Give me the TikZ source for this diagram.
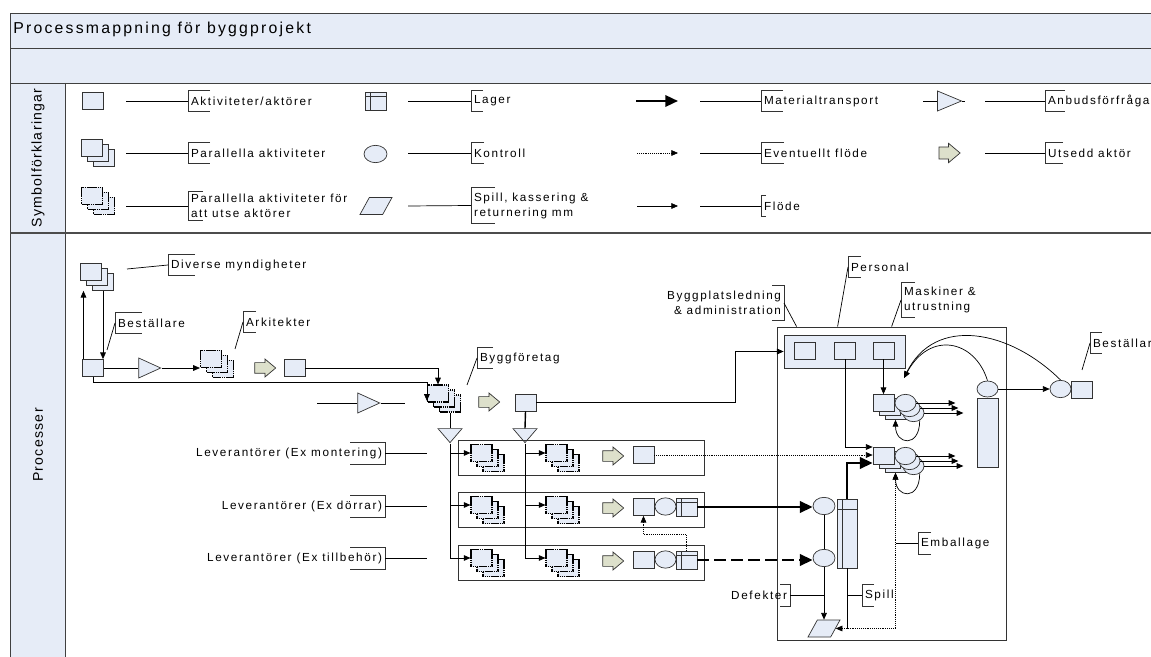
\documentclass[tikz,border=0pt]{standalone}
\usepackage{fontspec}
\setmainfont{Liberation Sans}[LetterSpace=14]
\usetikzlibrary{arrows.meta,shapes.geometric,shapes.arrows}
\definecolor{lightbg}{RGB}{230,236,247}
\definecolor{khaki}{RGB}{221,224,203}
\newcommand{\labfont}{\fontsize{10}{12.8}\selectfont}
\newcommand{\sidefont}{\fontsize{12}{15}\selectfont\addfontfeature{LetterSpace=9}}
% bracket on the left / right side of a label node
\newcommand{\lbrk}[2]{\draw[brk] (#2.north west) ++(#1,0) -| (#2.south west) -- ++(#1,0);}
\newcommand{\rbrk}[2]{\draw[brk] (#2.north east) ++(-#1,0) -| (#2.south east) -- ++(-#1,0);}

\begin{document}
\begin{tikzpicture}[x=0.03cm, y=-0.03cm, line width=0.6pt,
  every node/.style={inner sep=0pt},
  act/.style={draw=black!80, fill=lightbg, minimum width=6.3mm, minimum height=5.1mm},
  utse/.style={draw=black, line width=1pt, dash pattern=on 1.2pt off 0.4pt},
  ctl/.style={ellipse, draw=black!80, fill=lightbg, minimum width=6.3mm, minimum height=5.2mm},
  lager/.style={act, minimum height=5.4mm, path picture={
      \draw[black!80] ([xshift=1.5mm]path picture bounding box.north west) -- ([xshift=1.5mm]path picture bounding box.south west);
      \draw[black!80] ([yshift=-#1]path picture bounding box.north west) -- ([yshift=-#1]path picture bounding box.north east);}},
  lager/.default=1.3mm,
  utsedd/.style={single arrow, draw=black!80, fill=khaki, minimum height=6.3mm, inner xsep=0pt, inner ysep=1.5mm,
                 single arrow head extend=1.1mm, single arrow tip angle=80},
  anbud/.style={isosceles triangle, isosceles triangle stretches, draw=black!80, fill=lightbg, inner sep=0.5pt,
                minimum width=6mm, minimum height=6.6mm},
  anbdown/.style={anbud, shape border rotate=270, minimum width=7.2mm, minimum height=4.2mm},
  spill/.style={trapezium, trapezium left angle=55, trapezium right angle=125, trapezium stretches,
                draw=black!80, fill=lightbg, inner sep=0.5pt, minimum width=9.6mm, minimum height=5.1mm},
  grp/.style={draw=black!80, line width=0.7pt, minimum width=7.38cm, minimum height=1.05cm},
  lbl/.style={font=\labfont, inner xsep=0.8mm, minimum height=6.3mm},
  brk/.style={draw=black!80},
  frame/.style={draw=black!75, line width=0.7pt},
  flow/.style={draw=black, -{Triangle[length=2mm,width=1.7mm]}},
  maybe/.style={flow, densely dotted},
  mat/.style={draw=black, line width=2pt, -{Triangle[length=3.8mm,width=3.4mm]}},
  matdash/.style={mat, dash pattern=on 3.6mm off 1.5mm},
  pics/stk/.style={code={
      \node[act,#1] (-c) at (12,10) {};
      \node[act,#1] (-b) at (6,5) {};
      \node[act,#1] (-a) at (0,0) {};}},
  pics/stk/.default={},
  pics/clu/.style={code={
      \node[act] (-c) at (12,8) {};
      \node[act] (-b) at (6,4) {};
      \node[act] (-a) at (0,0) {};
      \node[ctl] (-e3) at (30,10) {};
      \node[ctl] (-e2) at (26,5) {};
      \node[ctl] (-e1) at (22,0) {};}}
]
  \useasboundingbox (0,0) rectangle (1151,657);

  % frame
  \fill[lightbg] (10,13) rectangle (1160,83);
  \fill[lightbg] (10,83) rectangle (65,670);
  \draw[frame] (1160,13) -- (10,13) -- (10,670);
  \draw[frame] (10,48) -- (1160,48);
  \draw[frame] (10,83) -- (1160,83);
  \draw[frame] (65,83) -- (65,670);
  \draw[frame, line width=1.8pt, draw=black!70] (10,233) -- (1160,233);
  \node[anchor=west, font=\fontsize{13.5}{16}\selectfont] (title) at (13,29.5) {Processmappning för byggprojekt};
  \node[rotate=90, font=\sidefont] (symb) at (38,158) {Symbolförklaringar};
  \node[rotate=90, font=\sidefont] (proc) at (38,445) {Processer};

  % legend, column 1
  \node[act] (s-akt) at (93,100.5) {};
  \pic (s-par) at (92,148) {stk};
  \pic (s-uts) at (92,196) {stk=utse};
  \node[lbl, anchor=west] (l-akt) at (188,101) {Aktiviteter/aktörer};
  \node[lbl, anchor=west] (l-par) at (188,153) {Parallella aktiviteter};
  \node[lbl, anchor=west, align=left, minimum height=8.7mm] (l-uts) at (188,206) {Parallella aktiviteter för\\att utse aktörer};
  \lbrk{22}{l-akt} \lbrk{22}{l-par} \lbrk{15}{l-uts}
  \draw (126,101) -- (l-akt.west);
  \draw (126,153) -- (l-par.west);
  \draw (126,206) -- (l-uts.west);

  % legend, column 2
  \node[lager] (s-lag) at (376,101) {};
  \node[ctl, minimum width=6.9mm] (s-kon) at (375.5,154) {};
  \node[spill] (s-spi) at (376,206) {};
  \node[lbl, anchor=west] (l-lag) at (471,101) {Lager};
  \node[lbl, anchor=west] (l-kon) at (471,153) {Kontroll};
  \node[lbl, anchor=west, align=left, minimum height=10.5mm] (l-spi) at (471,205.5) {Spill, kassering \&\\returnering mm};
  \lbrk{12}{l-lag} \lbrk{13}{l-kon} \lbrk{24}{l-spi}
  \draw (408,101) -- (l-lag.west);
  \draw (408,153) -- (l-kon.west);
  \draw (408,206) -- (l-spi.west);

  % legend, column 3
  \draw[mat] (636,101) -- (678,101);
  \draw[maybe] (637,153) -- (678,153);
  \draw[flow] (637,206) -- (678,206);
  \node[lbl, anchor=west] (l-mat) at (761,101) {Materialtransport};
  \node[lbl, anchor=west] (l-evf) at (761,153) {Eventuellt flöde};
  \node[lbl, anchor=west] (l-flo) at (761,206) {Flöde};
  \lbrk{22}{l-mat} \lbrk{23}{l-evf} \lbrk{5}{l-flo}
  \draw (700,101) -- (l-mat.west);
  \draw (700,153) -- (l-evf.west);
  \draw (700,206) -- (l-flo.west);

  % legend, column 4
  \node[anbud, minimum height=7.2mm] (s-anb) at (944,101) {};
  \draw (923,101) -- (s-anb.lower side);
  \draw (s-anb.apex) -- (965,101);
  \node[utsedd, inner ysep=1.7mm] (s-ut) at (946,153) {};
  \node[lbl, anchor=west] (l-anb) at (1045,101) {Anbudsförfrågan};
  \node[lbl, anchor=west] (l-ut) at (1045,153) {Utsedd aktör};
  \lbrk{20}{l-anb} \lbrk{18}{l-ut}
  \draw (985,101) -- (l-anb.west);
  \draw (985,153) -- (l-ut.west);

  % beställare, myndigheter, arkitekter
  \pic (dm) at (91,272) {stk};
  \node[act] (best) at (93,368) {};
  \node[anbud] (anb1) at (145,368) {};
  \pic (ark) at (211,359) {stk=utse};
  \node[utsedd] (ut0) at (262,368) {};
  \node[act] (ark2) at (294.5,368) {};
  \node[lbl, anchor=west] (l-dm) at (168,265) {Diverse myndigheter};
  \node[lbl, anchor=west] (l-best) at (115,323) {Beställare};
  \node[lbl, anchor=west] (l-ark) at (243,322) {Arkitekter};
  \lbrk{27}{l-dm} \lbrk{27}{l-best} \lbrk{13}{l-ark}
  \draw (l-dm.west) -- ++(-41,4);
  \draw (l-best.west) -- ++(-8,27);
  \draw (l-ark.west) -- ++(-8,27);
  \draw[flow] (dm-c.south) -- (dm-c.south |- best.north);
  \draw[flow] ([xshift=0.4mm]best.north west) -- ([xshift=0.4mm]best.north west |- dm-c.south);
  \draw (best.east) -- (anb1.lower side);
  \draw[flow] (anb1.apex) -- (anb1.apex -| ark-a.west);

  % byggföretag
  \pic (bf) at (438,393.5) {stk=utse};
  \node[utsedd] (ut00) at (486,402) {};
  \node[act] (bf2) at (525.5,402.5) {};
  \node[lbl, anchor=west] (l-bf) at (477,358) {Byggföretag};
  \lbrk{16}{l-bf}
  \draw (l-bf.west) -- ++(-10,27);
  \draw[flow] (ark2.east) -| (bf-a.north);
  \draw[flow] (best.south) -- ++(0,6) -| ([yshift=-2.2mm]bf-a.west);
  \node[anbud] (anb2) at (364,403) {};
  \coordinate (a2l) at (317,403);
  \coordinate (a2r) at (405,403);
  \draw (a2l) -- (anb2.lower side);
  \draw (anb2.apex) -- (a2r);
  \node[anbdown] (anb3) at (450,434) {};
  \node[anbdown] (anb4) at (525,434) {};
  \draw (bf-c.south) -- (anb3.lower side);
  \draw[line width=1.2pt] (bf2.south) -- (anb4.lower side);

  % leverantörer
  \foreach \y/\n in {457.5/1, 509.5/2, 562.5/3}
    \node[grp] (box\n) at (581,\y) {};
  \foreach \y/\n in {453/1, 505/2, 558/3} {
    \pic (sa\n) at (481.5,\y) {stk=utse};
    \pic (sb\n) at (556.5,\y) {stk=utse};
    \node[utsedd] (ut\n) at (610,\y+3) {};
  }
  \node[lbl, anchor=east] (lev1) at (385,453) {Leverantörer (Ex montering)};
  \node[lbl, anchor=east] (lev2) at (385,506) {Leverantörer (Ex dörrar)};
  \node[lbl, anchor=east] (lev3) at (385,558) {Leverantörer (Ex tillbehör)};
  \foreach \n in {1,2,3} {
    \rbrk{35}{lev\n}
    \draw (lev\n.east) -- ++(42,0);
  }
  \draw[flow] (anb3.apex) |- (sa3-a.west);
  \draw[flow] (anb4.apex) |- (sb3-a.west);
  \foreach \n in {1,2} {
    \draw[flow] (anb3.apex |- sa\n-a.west) -- (sa\n-a.west);
    \draw[flow] (anb4.apex |- sb\n-a.west) -- (sb\n-a.west);
  }
  \node[act] (lv1) at (643.5,455) {};
  \node[act] (lv2) at (643.5,507) {};
  \node[ctl] (kv2) at (665.5,506.5) {};
  \node[lager] (lg2) at (686.5,507) {};
  \node[act] (lv3) at (643.5,560) {};
  \node[ctl] (kv3) at (665.5,559.5) {};
  \node[lager] (lg3) at (686.5,560) {};
  \draw[maybe] (lg3.north) -- ++(0,-16) -| (lv2.south);

  % byggplats
  \node[draw=black!80, line width=0.7pt, minimum width=6.87cm, minimum height=9.39cm] (site) at (891.5,483.5) {};
  \node[act, minimum width=3.63cm, minimum height=0.99cm] (grp) at (844.5,351.5) {};
  \node[act] (adm) at (804.5,350.5) {};
  \node[act] (pers) at (845,350.5) {};
  \node[act] (mask) at (883.5,350.5) {};
  \node[lbl, anchor=east, align=right, minimum height=10.2mm] (l-bpl) at (784,303) {Byggplatsledning\\\& administration};
  \node[lbl, anchor=west] (l-pers) at (848,267) {Personal};
  \node[lbl, anchor=west, align=left, minimum height=10.2mm] (l-mask) at (901,300) {Maskiner \&\\utrustning};
  \rbrk{12}{l-bpl} \lbrk{13}{l-pers} \lbrk{14}{l-mask}
  \draw (l-bpl.east) -- ([xshift=6mm]site.north west);
  \draw (l-pers.west) -- ([xshift=1.83cm]site.north west);
  \draw (l-mask.west) -- ([xshift=3.45cm]site.north west);
  \coordinate (j1) at (735,402.5);
  \draw[flow] (bf2.east) -- (j1) |- (grp.west);

  \pic (cl1) at (883.5,403) {clu};
  \pic (cl2) at (883.5,456) {clu};
  \draw[flow] (mask.south) -- (cl1-a.north);
  \draw[flow] (pers.south) |- ([yshift=2.7mm]cl2-a.west);
  \draw[maybe] (lv1.east) -- (lv1.east -| cl2-a.west);
  \foreach \c in {cl1,cl2} {
    \draw[flow] (\c-e1.east) -- ++(39,0);
    \draw[flow] (\c-e2.east) -- ++(38,0);
    \draw[flow] (\c-e3.east) -- ++(39,0);
    \draw[flow] (\c-e3.-50) .. controls +(0,28) and +(0,25) .. (\c-c.south);
  }

  \node[ctl, minimum width=6.6mm] (k1) at (824,506) {};
  \node[ctl, minimum width=6.6mm] (k2) at (824,558) {};
  \node[lager=3mm, minimum width=6mm, minimum height=2.07cm] (tl) at (847,533.5) {};
  \node[spill] (sp) at (824,628.5) {};
  \draw[mat] (lg2.east) -- (lg2.east -| k1.west);
  \draw[matdash] (lg3.east) -- (lg3.east -| k2.west);
  \draw (k1.south) -- (k2.north);
  \draw[flow] (k2.south) -- (k2.south |- sp.north);
  \draw[mat] (tl.north) |- ([yshift=-2.1mm]cl2-a.west);
  \draw (tl.south) -- (tl.south |- sp.east);
  \draw[maybe, {Triangle[length=2mm,width=1.7mm]}-{Triangle[length=2mm,width=1.7mm]}] (sp.east) -| (cl2-c.south);
  \node[lbl, anchor=west] (l-emb) at (918,543) {Emballage};
  \node[lbl, anchor=west] (l-spill) at (862,595.5) {Spill};
  \node[lbl, anchor=east] (l-def) at (790,595.5) {Defekter};
  \lbrk{13}{l-emb} \lbrk{12}{l-spill} \rbrk{10}{l-def}
  \draw (l-emb.west) -- (l-emb.west -| cl2-c.south);
  \draw (l-spill.west) -- (l-spill.west -| tl.south);
  \draw (l-def.east) -- (l-def.east -| k2.south);

  % kontroll och beställare till höger
  \node[ctl, minimum height=4.8mm] (k3) at (987.5,389) {};
  \node[act, minimum height=2.07cm] (tr) at (987.5,432.5) {};
  \node[ctl] (k4) at (1060.5,389) {};
  \node[act] (best2) at (1081.5,389.5) {};
  \node[lbl, anchor=west] (l-best2) at (1090,343) {Beställare};
  \lbrk{12}{l-best2}
  \draw (l-best2.west) -- ++(-8,27);
  \draw[flow] (k3.east) -- (k4.west);
  \coordinate (ret) at (904,378);
  \draw[flow] (k3.north) .. controls (975,340) and (930,330) .. (ret);
  \draw[flow] (k4.north) .. controls (1010,330) and (935,315) .. (ret);
\end{tikzpicture}
\end{document}
